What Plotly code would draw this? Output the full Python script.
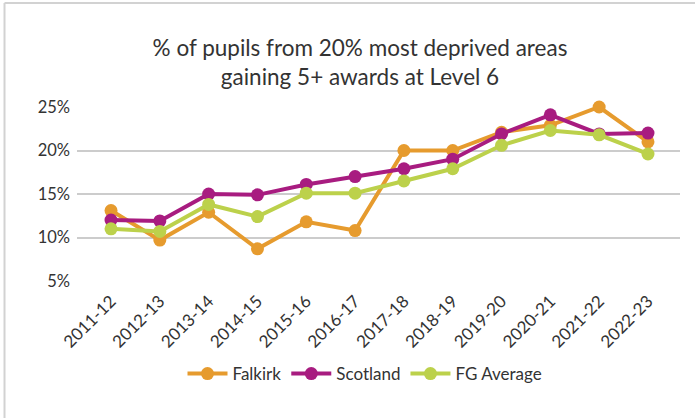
import plotly.graph_objects as go

# School years on the category axis
years = ["2011-12", "2012-13", "2013-14", "2014-15", "2015-16", "2016-17",
         "2017-18", "2018-19", "2019-20", "2020-21", "2021-22", "2022-23"]

# % of pupils from the 20% most deprived areas gaining 5+ awards at Level 6
falkirk = [13.1, 9.7, 12.9, 8.7, 11.8, 10.8, 20.0, 20.0, 22.1, 22.9, 25.0, 21.0]
scotland = [12.0, 11.9, 15.0, 14.9, 16.1, 17.0, 17.9, 19.0, 21.9, 24.1, 21.9, 22.0]
fg_average = [11.0, 10.7, 13.8, 12.4, 15.1, 15.1, 16.5, 17.9, 20.6, 22.3, 21.8, 19.6]

y_ticks = [5, 10, 15, 20, 25]

series = [
    ("Falkirk", falkirk, "#E69B2E"),
    ("Scotland", scotland, "#A81C80"),
    ("FG Average", fg_average, "#BCD14B"),
]

FONT = "Lato"
TEXT = "#333333"

fig = go.Figure()
for name, vals, color in series:
    fig.add_trace(go.Scatter(
        x=list(range(len(years))), y=vals, name=name,
        mode="lines+markers",
        line=dict(color=color, width=4),
        marker=dict(color=color, size=13),
        cliponaxis=False,
    ))

# light frame along the top and left edges
frame = dict(color="#d2d2d2", width=2)
fig.add_shape(type="line", xref="paper", yref="paper",
              x0=-0.1202, x1=1.03, y0=1.598, y1=1.598, line=frame)
fig.add_shape(type="line", xref="paper", yref="paper",
              x0=-0.1202, x1=-0.1202, y0=1.598, y1=-0.80, line=frame)

fig.update_layout(
    width=695, height=418,
    margin=dict(l=77, r=15, t=107, b=137),
    paper_bgcolor="white", plot_bgcolor="white",
    font=dict(family=FONT, color=TEXT, size=15),
    title=dict(
        text="% of pupils from 20% most deprived areas<br>gaining 5+ awards at Level 6",
        x=360 / 695, xanchor="center", xref="container",
        y=1 - 56 / 418, yanchor="middle", yref="container",
        font=dict(family=FONT, size=22.5, color=TEXT),
    ),
    xaxis=dict(
        tickmode="array", tickvals=list(range(len(years))), ticktext=years,
        range=[-0.697, 11.656], tickangle=-45,
        showgrid=False, zeroline=False, showline=False, ticks="",
        ticklabelstandoff=6,
        tickfont=dict(size=17, color=TEXT),
    ),
    yaxis=dict(
        range=[5, 25], tickvals=y_ticks,
        ticktext=[f"{v}%" for v in y_ticks],
        showgrid=True, gridcolor="#cccccc", gridwidth=1.5,
        zeroline=False, showline=False, ticks="", ticklabelstandoff=6,
        tickfont=dict(size=16.5, color=TEXT),
    ),
    legend=dict(
        orientation="h", x=(365 - 77) / 603, xanchor="center",
        y=(281 - 374) / 174, yanchor="middle",
        font=dict(size=17, color=TEXT), itemwidth=40,
        traceorder="normal",
    ),
    showlegend=True,
)

fig.write_html("out.html")
